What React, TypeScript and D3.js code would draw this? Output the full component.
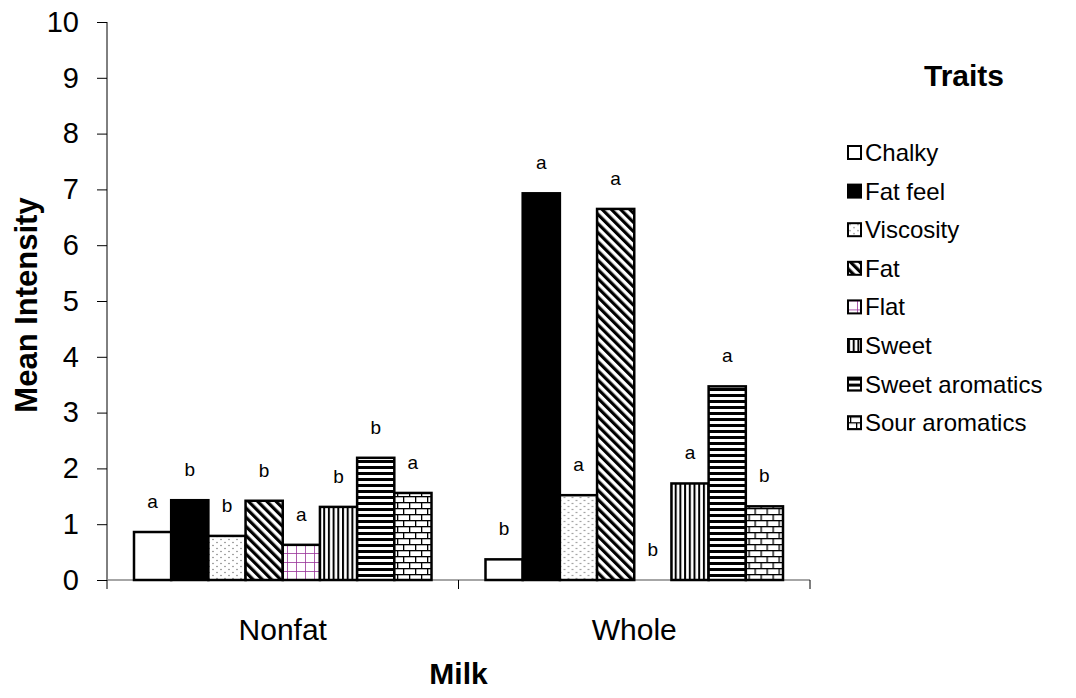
import { useEffect, useRef } from 'react'
import * as d3 from 'd3'

const W = 1076, H = 698
const M = { top: 22, right: 266, bottom: 118, left: 107 }
const FONT = 'Liberation Sans, Arial, sans-serif'

const MILK = ['Nonfat', 'Whole']
const TRAITS = ['Chalky', 'Fat feel', 'Viscosity', 'Fat', 'Flat', 'Sweet', 'Sweet aromatics', 'Sour aromatics']
const NONFAT = [0.86, 1.43, 0.79, 1.42, 0.63, 1.31, 2.19, 1.56]
const WHOLE = [0.37, 6.93, 1.52, 6.65, 0, 1.73, 3.47, 1.32]
const NONFAT_LETTERS = ['a', 'b', 'b', 'b', 'a', 'b', 'b', 'a']
const WHOLE_LETTERS = ['b', 'a', 'a', 'a', 'b', 'a', 'a', 'b']
const Y_TICKS = [0, 1, 2, 3, 4, 5, 6, 7, 8, 9, 10]

// fill per trait, patterns defined in <defs>
const FILLS = ['#fff', '#000', 'url(#p-dots)', 'url(#p-diag)', 'url(#p-grid)', 'url(#p-vert)', 'url(#p-horiz)', 'url(#p-brick)']

export default function App() {
  const svgRef = useRef<SVGSVGElement>(null)

  useEffect(() => {
    const svg = d3.select(svgRef.current!)
    svg.selectAll('*').remove()

    const iw = W - M.left - M.right
    const ih = H - M.top - M.bottom

    // ── patterns ──────────────────────────────────────────────────────────
    const defs = svg.append('defs')

    const dots = defs.append('pattern').attr('id', 'p-dots')
      .attr('patternUnits', 'userSpaceOnUse').attr('width', 8).attr('height', 6)
    dots.append('rect').attr('width', 8).attr('height', 6).attr('fill', '#fff')
    dots.append('circle').attr('cx', 2).attr('cy', 1.5).attr('r', 0.7).attr('fill', '#666')
    dots.append('circle').attr('cx', 6).attr('cy', 4.5).attr('r', 0.7).attr('fill', '#666')

    const diag = defs.append('pattern').attr('id', 'p-diag')
      .attr('patternUnits', 'userSpaceOnUse').attr('width', 6.5).attr('height', 6.5)
      .attr('patternTransform', 'rotate(-45)')
    diag.append('rect').attr('width', 6.5).attr('height', 6.5).attr('fill', '#fff')
    diag.append('rect').attr('width', 3.2).attr('height', 6.5).attr('fill', '#000')

    const grid = defs.append('pattern').attr('id', 'p-grid')
      .attr('patternUnits', 'userSpaceOnUse').attr('width', 9).attr('height', 9)
    grid.append('rect').attr('width', 9).attr('height', 9).attr('fill', '#fff')
    grid.append('rect').attr('width', 0.8).attr('height', 9).attr('fill', '#993399')
    grid.append('rect').attr('width', 9).attr('height', 0.8).attr('fill', '#993399')

    const vert = defs.append('pattern').attr('id', 'p-vert')
      .attr('patternUnits', 'userSpaceOnUse').attr('width', 4.7).attr('height', 4)
    vert.append('rect').attr('width', 4.7).attr('height', 4).attr('fill', '#fff')
    vert.append('rect').attr('width', 2).attr('height', 4).attr('fill', '#000')

    const horiz = defs.append('pattern').attr('id', 'p-horiz')
      .attr('patternUnits', 'userSpaceOnUse').attr('width', 4).attr('height', 6)
    horiz.append('rect').attr('width', 4).attr('height', 6).attr('fill', '#fff')
    horiz.append('rect').attr('width', 4).attr('height', 3).attr('fill', '#000')

    const brick = defs.append('pattern').attr('id', 'p-brick')
      .attr('patternUnits', 'userSpaceOnUse').attr('width', 12).attr('height', 12)
    brick.append('rect').attr('width', 12).attr('height', 12).attr('fill', '#fff')
    brick.append('rect').attr('y', 0).attr('width', 12).attr('height', 1.3).attr('fill', '#000')
    brick.append('rect').attr('y', 6).attr('width', 12).attr('height', 1.3).attr('fill', '#000')
    brick.append('rect').attr('x', 2).attr('y', 0).attr('width', 1.3).attr('height', 6).attr('fill', '#000')
    brick.append('rect').attr('x', 8).attr('y', 6).attr('width', 1.3).attr('height', 6).attr('fill', '#000')

    const g = svg.append('g').attr('transform', `translate(${M.left},${M.top})`)

    // ── scales ────────────────────────────────────────────────────────────
    const x0 = d3.scaleBand().domain(MILK).range([0, iw]).paddingInner(0).paddingOuter(0)
    const x1 = d3.scaleBand().domain(TRAITS).range([27, x0.bandwidth() - 27])
    const y = d3.scaleLinear().domain([0, 10]).range([ih, 0])

    // ── y axis ────────────────────────────────────────────────────────────
    g.append('g')
      .call(d3.axisLeft(y).tickValues(Y_TICKS).tickSize(10).tickPadding(18))
      .call(ax => {
        ax.select('.domain').attr('stroke', '#000').attr('stroke-width', 1)
          .attr('d', `M0,${ih}V0`)
        ax.selectAll('.tick line').attr('stroke', '#000')
        ax.selectAll('.tick text')
          .attr('font-size', 29).attr('font-family', FONT).attr('fill', '#000')
      })

    g.append('text')
      .attr('transform', 'rotate(-90)').attr('x', -283).attr('y', -70)
      .attr('text-anchor', 'middle').attr('font-size', 31).attr('font-weight', 'bold')
      .attr('font-family', FONT).text('Mean Intensity')

    // ── x axis ────────────────────────────────────────────────────────────
    g.append('line').attr('x1', 0).attr('x2', iw).attr('y1', ih).attr('y2', ih)
      .attr('stroke', '#888').attr('stroke-width', 1.5)
    g.selectAll('line.xtick')
      .data([0, x0.bandwidth(), iw])
      .join('line').attr('class', 'xtick')
      .attr('x1', d => d).attr('x2', d => d).attr('y1', ih).attr('y2', ih + 9)
      .attr('stroke', '#000')
    g.selectAll('text.xlab')
      .data(MILK)
      .join('text').attr('class', 'xlab')
      .attr('x', d => x0(d)! + x0.bandwidth() / 2).attr('y', ih + 60)
      .attr('text-anchor', 'middle').attr('font-size', 30).attr('font-family', FONT)
      .text(d => d)

    g.append('text')
      .attr('x', iw / 2).attr('y', ih + 104)
      .attr('text-anchor', 'middle').attr('font-size', 30).attr('font-weight', 'bold')
      .attr('font-family', FONT).text('Milk')

    // ── bars ──────────────────────────────────────────────────────────────
    const groups = [
      { milk: MILK[0], values: NONFAT, letters: NONFAT_LETTERS },
      { milk: MILK[1], values: WHOLE, letters: WHOLE_LETTERS },
    ]

    groups.forEach(grp => {
      const gg = g.append('g').attr('transform', `translate(${x0(grp.milk)},0)`)
      const rows = TRAITS.map((t, i) => ({ t, i, v: grp.values[i], l: grp.letters[i] }))

      gg.selectAll('rect')
        .data(rows.filter(d => d.v > 0))
        .join('rect')
        .attr('x', d => x1(d.t)!).attr('width', x1.bandwidth())
        .attr('y', d => y(d.v)).attr('height', d => ih - y(d.v))
        .attr('fill', d => FILLS[d.i])
        .attr('stroke', '#000').attr('stroke-width', 2.5)

      gg.selectAll('text')
        .data(rows)
        .join('text')
        .attr('x', d => x1(d.t)! + x1.bandwidth() / 2)
        .attr('y', d => y(d.v) - 24)
        .attr('text-anchor', 'middle').attr('font-size', 19).attr('font-family', FONT)
        .text(d => d.l)
    })

    // ── legend ────────────────────────────────────────────────────────────
    svg.append('text')
      .attr('x', 964).attr('y', 86).attr('text-anchor', 'middle')
      .attr('font-size', 30).attr('font-weight', 'bold').attr('font-family', FONT)
      .text('Traits')

    const lg = svg.append('g').attr('transform', 'translate(848,146)')
    const item = lg.selectAll('g')
      .data(TRAITS)
      .join('g')
      .attr('transform', (_, i) => `translate(0,${i * 38.6})`)
    item.append('rect')
      .attr('width', 13).attr('height', 13)
      .attr('fill', (_, i) => FILLS[i])
      .attr('stroke', '#000').attr('stroke-width', 2)
    item.append('text')
      .attr('x', 17).attr('y', 15)
      .attr('font-size', 24).attr('font-family', FONT)
      .text(d => d)
  }, [])

  return (
    <div style={{ position: 'absolute', left: 0, top: 0, background: '#fff' }}>
      <svg ref={svgRef} width={W} height={H} viewBox={`0 0 ${W} ${H}`} style={{ display: 'block' }} />
    </div>
  )
}
